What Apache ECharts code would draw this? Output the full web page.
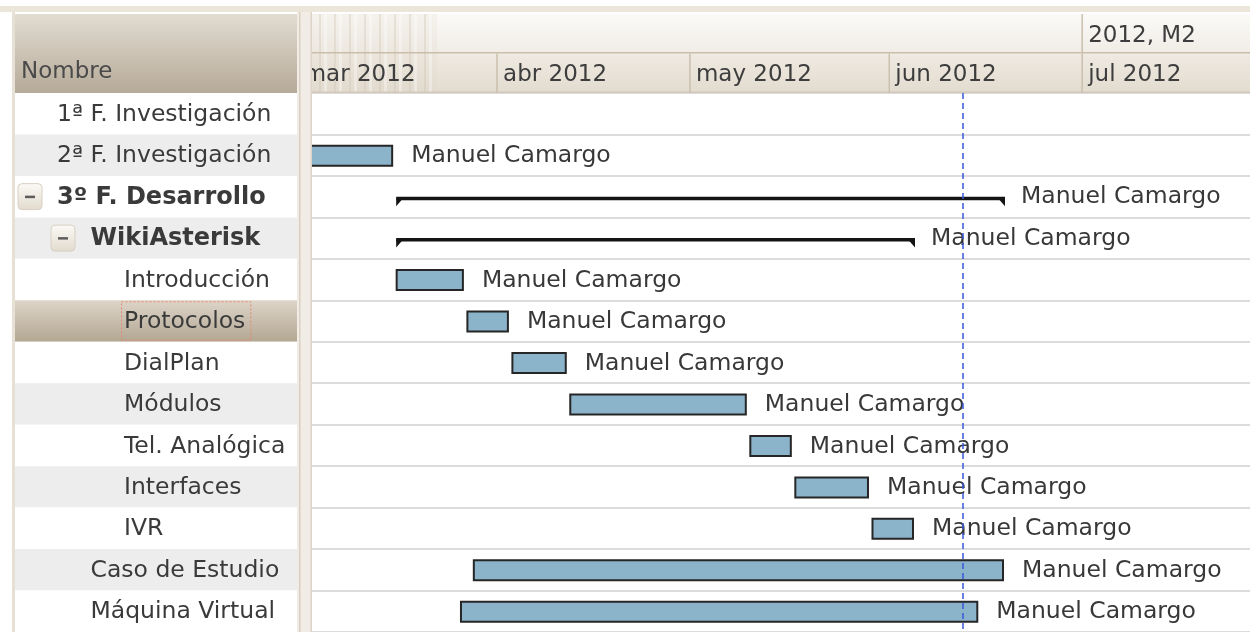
<!DOCTYPE html>
<html>
<head>
<meta charset="utf-8">
<title>Diagrama de Gantt - WikiAsterisk</title>
<script src="https://cdn.jsdelivr.net/npm/echarts@6/dist/echarts.min.js"></script>
<style>
  html, body { margin: 0; padding: 0; background: #fff; }
  #main { width: 1250px; height: 632px; }
</style>
</head>
<body>
<div id="main"></div>
<script>
// tareas (en el orden del árbol)
const taskNames = ['1ª F. Investigación', '2ª F. Investigación', '3º F. Desarrollo', 'WikiAsterisk', 'Introducción', 'Protocolos', 'DialPlan', 'Módulos', 'Tel. Analógica', 'Interfaces', 'IVR', 'Caso de Estudio', 'Máquina Virtual']
const taskLevel = [0, 0, 0, 1, 2, 2, 2, 2, 2, 2, 2, 1, 1]
const taskIsGroup = [false, false, true, true, false, false, false, false, false, false, false, false, false]
const taskStart = ['2012-01-09', '2012-01-30', '2012-03-16', '2012-03-16', '2012-03-16', '2012-03-27', '2012-04-03', '2012-04-12', '2012-05-10', '2012-05-17', '2012-05-29', '2012-03-28', '2012-03-26']
const taskEnd = ['2012-01-27', '2012-03-16', '2012-06-19', '2012-06-05', '2012-03-27', '2012-04-03', '2012-04-12', '2012-05-10', '2012-05-17', '2012-05-29', '2012-06-05', '2012-06-19', '2012-06-15']
const taskResource = ['Manuel Camargo', 'Manuel Camargo', 'Manuel Camargo', 'Manuel Camargo', 'Manuel Camargo', 'Manuel Camargo', 'Manuel Camargo', 'Manuel Camargo', 'Manuel Camargo', 'Manuel Camargo', 'Manuel Camargo', 'Manuel Camargo', 'Manuel Camargo']
const selectedTask = 'Protocolos'

// escala de tiempo
const monthLabels = ['mar 2012', 'abr 2012', 'may 2012', 'jun 2012', 'jul 2012']
const monthStarts = ['2012-03-01', '2012-04-01', '2012-05-01', '2012-06-01', '2012-07-01', '2012-08-01']
const halfLabels = ['2012, M1', '2012, M2']
const halfStarts = ['2012-01-01', '2012-07-01', '2013-01-01']
const today = '2012-06-12T12:00'
const viewStart = '2012-03-03T05:20'
const viewEnd = '2012-07-27T02:24'

const FONT = '"DejaVu Sans"'
const t = s => new Date(s + (s.length === 10 ? 'T00:00:00Z' : ':00Z')).getTime()
const LG = echarts.graphic.LinearGradient

const measure = document.createElement('canvas').getContext('2d')
function textWidth(text, font) {
  measure.font = font
  return measure.measureText(text).width
}

// patron de rayas de la cabecera
const stripe = document.createElement('canvas')
stripe.width = 15
stripe.height = 4
const sctx = stripe.getContext('2d')
sctx.fillStyle = 'rgba(222,214,200,0.22)'
sctx.fillRect(0, 0, 15, 4)
sctx.fillStyle = 'rgba(205,195,178,0.35)'
sctx.fillRect(4, 0, 2, 4)
sctx.fillStyle = 'rgba(255,255,255,0.35)'
sctx.fillRect(9, 0, 3, 4)

const taskData = taskNames.map((n, i) => [i, t(taskStart[i]), t(taskEnd[i])])
const rowData = taskNames.map((n, i) => [i])
const headerData = halfLabels.map((l, i) => [0, t(halfStarts[i]), t(halfStarts[i + 1]), i])
  .concat(monthLabels.map((l, i) => [1, t(monthStarts[i]), t(monthStarts[i + 1]), i]))

function renderRow(params, api) {
  const i = api.value(0)
  const c = api.coord([0, i])
  const h = api.size([0, 1])[1]
  const cs = params.coordSys
  const top = c[1] - h / 2
  const lvl = taskLevel[i]
  const selected = taskNames[i] === selectedTask
  const children = []
  let fill = i % 2 ? '#ededed' : '#ffffff'
  if (selected) fill = new LG(0, 0, 0, 1, [{ offset: 0, color: '#ddd5c9' }, { offset: 1, color: '#b3a692' }])
  children.push({ type: 'rect', shape: { x: cs.x, y: top, width: cs.width, height: h }, style: { fill } })
  if (taskIsGroup[i]) {
    const bx = cs.x + 3 + 33 * lvl
    children.push({ type: 'rect', shape: { x: bx, y: c[1] - 13, width: 24, height: 26, r: 4 },
      style: { fill: new LG(0, 0, 0, 1, [{ offset: 0, color: '#fbfaf7' }, { offset: 1, color: '#e2dbcd' }]), stroke: '#d8d0c2', lineWidth: 1 } })
    children.push({ type: 'rect', shape: { x: bx + 7, y: c[1] - 1, width: 10, height: 2.5 }, style: { fill: '#5c5c5c' } })
  }
  const font = (taskIsGroup[i] ? 'bold 24px ' : '23.5px ') + FONT
  const tx = cs.x + 42 + 33.5 * lvl
  children.push({ type: 'text', style: { text: taskNames[i], x: tx, y: c[1] + 1, verticalAlign: 'middle', font, fill: '#3a3a3a' } })
  if (selected) {
    const w = textWidth(taskNames[i], font)
    children.push({ type: 'rect', shape: { x: tx - 2.5, y: top + 1.5, width: w + 8, height: h - 3 },
      style: { fill: null, stroke: '#e8866f', lineWidth: 1, lineDash: [2, 2] } })
  }
  return { type: 'group', children }
}

function renderHeaderCell(params, api) {
  const row = api.value(0)
  const a = api.coord([api.value(1), row])
  const b = api.coord([api.value(2), row])
  const h = api.size([0, 1])[1]
  const top = a[1] - h / 2
  const fill = row === 0
    ? new LG(0, 0, 0, 1, [{ offset: 0, color: '#fbfaf8' }, { offset: 1, color: '#f0ece5' }])
    : new LG(0, 0, 0, 1, [{ offset: 0, color: '#efeae2' }, { offset: 1, color: '#e2dbcf' }])
  return { type: 'rect', shape: { x: a[0], y: top, width: b[0] - a[0], height: h }, style: { fill } }
}

function renderHeaderText(params, api) {
  const row = api.value(0)
  const a = api.coord([api.value(1), row])
  const b = api.coord([api.value(2), row])
  const h = api.size([0, 1])[1]
  const top = a[1] - h / 2
  const label = row === 0 ? halfLabels[api.value(3)] : monthLabels[api.value(3)]
  const children = [
    { type: 'rect', shape: { x: a[0] - 0.75, y: top, width: 1.5, height: h }, style: { fill: '#cbbfad' } },
    { type: 'rect', shape: { x: a[0], y: top + h - 1.5, width: b[0] - a[0], height: 1.5 }, style: { fill: row === 0 ? '#c9bda9' : '#d3c9b9' } },
    { type: 'text', style: { text: label, x: a[0] + 6, y: a[1] + 2, verticalAlign: 'middle', font: '23px ' + FONT, fill: '#3d3d3d' } }
  ]
  return { type: 'group', children }
}

function renderTask(params, api) {
  const i = api.value(0)
  const a = api.coord([api.value(1), i])
  const b = api.coord([api.value(2), i])
  const cy = a[1]
  const font = '23.5px ' + FONT
  if (taskIsGroup[i]) {
    const ly = cy + 1.5
    const x0 = a[0] + 2
    const x1 = b[0]
    return { type: 'group', children: [
      { type: 'rect', shape: { x: x0, y: ly - 1.5, width: x1 - x0, height: 3.5 }, style: { fill: '#141414' } },
      { type: 'polygon', shape: { points: [[x0, ly], [x0 + 7, ly], [x0, ly + 8]] }, style: { fill: '#141414' } },
      { type: 'polygon', shape: { points: [[x1, ly], [x1 - 7, ly], [x1, ly + 8]] }, style: { fill: '#141414' } },
      { type: 'text', style: { text: taskResource[i], x: x1 + 16, y: cy + 0.5, verticalAlign: 'middle', font, fill: '#383838' } }
    ] }
  }
  const x0 = a[0] + 2.5
  const x1 = b[0] - 2
  return { type: 'group', children: [
    { type: 'rect', shape: { x: x0, y: cy - 9.5, width: x1 - x0, height: 20 },
      style: { fill: '#8bb3ca', stroke: '#262626', lineWidth: 2 } },
    { type: 'text', style: { text: taskResource[i], x: x1 + 19, y: cy + 1, verticalAlign: 'middle', font, fill: '#383838' } }
  ] }
}

const chart = echarts.init(document.getElementById('main'))
chart.setOption({
  animation: false,
  backgroundColor: '#ffffff',
  grid: [
    { left: 15, top: 93, width: 282, bottom: 0 },
    { left: 312, right: 0, top: 14, height: 79 },
    { left: 312, right: 0, top: 93, bottom: 0 }
  ],
  xAxis: [
    { gridIndex: 0, type: 'value', min: 0, max: 1, show: false },
    { gridIndex: 1, type: 'time', min: t(viewStart), max: t(viewEnd), show: false },
    { gridIndex: 2, type: 'time', min: t(viewStart), max: t(viewEnd), show: false }
  ],
  yAxis: [
    { gridIndex: 0, type: 'category', data: taskNames, inverse: true, show: false },
    { gridIndex: 1, type: 'category', data: ['semestre', 'mes'], inverse: true, show: false },
    {
      gridIndex: 2, type: 'category', data: taskNames, inverse: true,
      axisLine: { show: false }, axisTick: { show: false }, axisLabel: { show: false },
      splitLine: { show: true, lineStyle: { color: '#dcdcdc', width: 2 } }
    }
  ],
  graphic: [
    { type: 'rect', z: 10, shape: { x: 0, y: 6, width: 1250, height: 6 }, style: { fill: '#ebe5da' } },
    { type: 'rect', z: 10, shape: { x: 12, y: 12, width: 3, height: 620 }, style: { fill: '#e6e0d5' } },
    { type: 'rect', z: 10, shape: { x: 297, y: 12, width: 15, height: 620 }, style: { fill: '#f1ede6' } },
    { type: 'rect', z: 10, shape: { x: 299, y: 12, width: 1.5, height: 620 }, style: { fill: '#d9d0c2' } },
    { type: 'rect', z: 10, shape: { x: 310.5, y: 12, width: 1.5, height: 620 }, style: { fill: '#dcd4c7' } },
    {
      type: 'rect', z: 10, shape: { x: 15, y: 14, width: 282, height: 79 },
      style: { fill: new LG(0, 0, 0, 1, [{ offset: 0, color: '#e2dcd2' }, { offset: 1, color: '#b6aa98' }]) }
    },
    { type: 'text', z: 11, style: { text: 'Nombre', x: 21, y: 72, verticalAlign: 'middle', font: '23px ' + FONT, fill: '#4a4a4a' } },
    {
      type: 'rect', z: 2.5, shape: { x: 312, y: 14, width: 125, height: 78 },
      style: { fill: { image: stripe, repeat: 'repeat' } }
    }
  ],
  series: [
    {
      type: 'custom', xAxisIndex: 0, yAxisIndex: 0, renderItem: renderRow, data: rowData, z: 1, silent: true
    },
    {
      type: 'custom', xAxisIndex: 1, yAxisIndex: 1, renderItem: renderHeaderCell, data: headerData, clip: true, z: 2, silent: true
    },
    {
      type: 'custom', xAxisIndex: 1, yAxisIndex: 1, renderItem: renderHeaderText, data: headerData, clip: true, z: 3, silent: true
    },
    {
      type: 'custom', xAxisIndex: 2, yAxisIndex: 2, renderItem: renderTask, data: taskData, clip: true, z: 3,
      encode: { x: [1, 2], y: 0 }
    },
    {
      type: 'line', xAxisIndex: 2, yAxisIndex: 2, data: [], z: 6,
      markLine: {
        silent: true, symbol: ['none', 'none'], label: { show: false },
        lineStyle: { color: '#3858dc', type: [6, 4], width: 1.5 },
        data: [{ xAxis: t(today) }]
      }
    }
  ]
})
</script>
</body>
</html>
